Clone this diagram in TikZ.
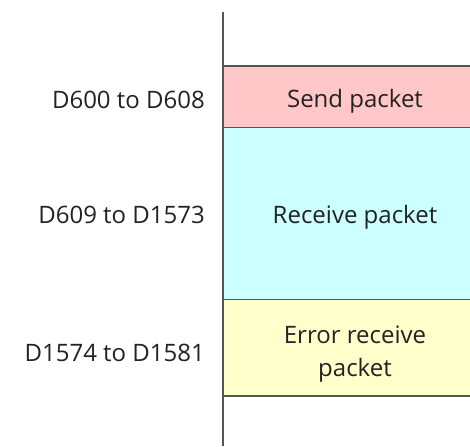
\documentclass[tikz,border=0pt]{standalone}
\usepackage{fontspec}
\setmainfont{Open Sans}
\definecolor{linec}{HTML}{555555}
\definecolor{pinkc}{HTML}{FFC7C7}
\definecolor{cyanc}{HTML}{CCFFFF}
\definecolor{yellc}{HTML}{FFFFCC}
\definecolor{txtc}{HTML}{222222}
\tikzset{
  seg/.style={draw=linec, line width=1.2pt},
  lbl/.style={anchor=base east, text=txtc, font=\fontsize{24}{30}\selectfont, inner sep=0pt},
  boxtxt/.style={anchor=base, align=center, text=txtc, font=\fontsize{24}{33}\selectfont, inner sep=0pt}
}
\begin{document}
\begin{tikzpicture}[x=1pt,y=-1pt]
\useasboundingbox (0,0) rectangle (470,446);
\fill[pinkc] (223,66) rectangle (490,127.5);
\fill[cyanc] (223,127.5) rectangle (490,299.5);
\fill[yellc] (223,299.5) rectangle (490,396);
\draw[seg] (223,66) -- (490,66);
\draw[seg] (223,127.5) -- (490,127.5);
\draw[seg] (223,299.5) -- (490,299.5);
\draw[seg] (223,396) -- (490,396);
\draw[seg] (223,12) -- (223,446);
\node[boxtxt] (s) at (355,108) {Send packet};
\node[boxtxt] (r) at (355,223) {Receive packet};
\node[boxtxt] (e) at (355,376) {Error receive\\packet};
\node[lbl] (l1) at (205,109) {D600 to D608};
\node[lbl] (l2) at (205,223) {D609 to D1573};
\node[lbl] (l3) at (205,361) {D1574 to D1581};
\end{tikzpicture}
\end{document}
